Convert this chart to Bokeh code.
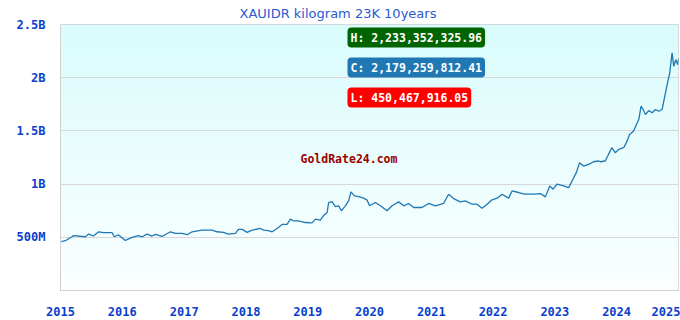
import numpy as np
import pandas as pd
from datetime import datetime
from bokeh.plotting import figure
from bokeh.models import Range1d, FixedTicker, DatetimeTickFormatter, Label, ColumnDataSource
from bokeh.embed import file_html
from bokeh.resources import INLINE

# ---- data ----
dates = [
    "2015-01-06", "2015-01-30", "2015-03-10", "2015-03-17", "2015-05-28", "2015-06-17", "2015-07-14",
    "2015-08-15", "2015-09-12", "2015-11-02", "2015-11-15", "2015-12-09", "2016-01-19", "2016-02-28",
    "2016-04-06", "2016-04-27", "2016-05-27", "2016-06-25", "2016-07-15", "2016-08-23", "2016-10-12",
    "2016-11-10", "2016-12-20", "2017-01-19", "2017-02-17", "2017-04-17", "2017-06-15", "2017-07-14",
    "2017-08-21", "2017-09-19", "2017-10-31", "2017-11-18", "2017-12-10", "2018-01-08", "2018-02-07",
    "2018-03-28", "2018-04-15", "2018-05-14", "2018-06-05", "2018-07-04", "2018-08-03", "2018-09-01",
    "2018-09-21", "2018-10-08", "2018-11-07", "2018-12-18", "2019-01-27", "2019-02-16", "2019-03-17",
    "2019-04-04", "2019-04-26", "2019-05-05", "2019-05-25", "2019-06-14", "2019-07-03", "2019-07-19",
    "2019-08-12", "2019-08-31", "2019-09-14", "2019-10-04", "2019-10-29", "2019-11-28", "2019-12-18",
    "2020-01-02", "2020-02-05", "2020-03-06", "2020-04-14", "2020-05-14", "2020-06-22", "2020-07-22",
    "2020-08-20", "2020-09-19", "2020-11-07", "2020-12-16", "2021-01-25", "2021-03-14", "2021-04-13",
    "2021-05-13", "2021-06-21", "2021-07-21", "2021-08-30", "2021-09-28", "2021-10-28", "2021-11-27",
    "2021-12-22", "2022-01-25", "2022-02-23", "2022-04-03", "2022-04-23", "2022-06-01", "2022-07-07",
    "2022-08-29", "2022-10-08", "2022-11-06", "2022-12-02", "2022-12-22", "2023-01-14", "2023-02-22",
    "2023-03-24", "2023-04-18", "2023-05-08", "2023-05-27", "2023-06-20", "2023-07-19", "2023-08-18",
    "2023-09-17", "2023-09-27", "2023-10-26", "2023-11-14", "2023-12-04", "2023-12-24", "2024-01-13",
    "2024-02-12", "2024-03-03", "2024-03-18", "2024-04-11", "2024-04-27", "2024-05-11", "2024-05-25",
    "2024-06-06", "2024-06-20", "2024-07-09", "2024-07-29", "2024-08-18", "2024-09-06", "2024-09-26",
    "2024-10-10", "2024-10-26", "2024-11-10", "2024-11-24", "2024-12-04", "2024-12-16", "2024-12-28",
    "2025-01-01",
]
values_m = [
    459, 468, 505, 515, 505, 530, 512,
    552, 543, 543, 505, 524, 471, 499,
    515, 505, 530, 512, 527, 508, 552,
    537, 537, 524, 552, 568, 568, 552,
    546, 530, 537, 574, 574, 546, 568,
    583, 568, 562, 552, 583, 621, 621,
    671, 655, 655, 639, 636, 671, 661,
    702, 733, 827, 836, 789, 796, 749,
    796, 842, 927, 889, 883, 868, 850,
    796, 827, 796, 749, 796, 833, 796,
    818, 780, 780, 818, 796, 818, 905,
    864, 833, 842, 811, 811, 774, 811,
    849, 868, 905, 868, 936, 921, 905,
    905, 911, 880, 983, 952, 999, 983,
    967, 1045, 1108, 1201, 1170, 1186, 1210,
    1217, 1210, 1217, 1279, 1342, 1295, 1326,
    1342, 1404, 1467, 1498, 1561, 1607, 1732,
    1701, 1654, 1691, 1670, 1701, 1685, 1701,
    1810, 1935, 2044, 2233, 2107, 2169, 2122,
    2179,
]
y_ticks = [0, 500_000_000, 1_000_000_000, 1_500_000_000, 2_000_000_000, 2_500_000_000]
y_tick_labels = ["", "500M", "1B", "1.5B", "2B", "2.5B"]
x_tick_years = list(range(2015, 2026))
title_text = "XAUIDR kilogram 23K 10years"
high_value = "2,233,352,325.96"
close_value = "2,179,259,812.41"
low_value = "450,467,916.05"

x = pd.to_datetime(dates)
y = np.array(values_m, dtype=float) * 1e6
src = ColumnDataSource(dict(x=x, y=y))

x0 = datetime(2015, 1, 1)
x1 = datetime(2025, 1, 1)

p = figure(width=680, height=320, output_backend="svg", toolbar_location=None,
           x_axis_type="datetime",
           x_range=Range1d(x0, x1), y_range=Range1d(0, 2.5e9),
           min_border_left=60, min_border_right=2, min_border_top=23, min_border_bottom=30)
p.background_fill_color = "white"
p.border_fill_color = "white"
p.outline_line_color = "#d0d0d0"

# gradient background
n = 100
top = np.array([218, 252, 252])
bot = np.array([251, 255, 255])
t = np.linspace(0, 1, n)[:, None]
cols = (bot + (top - bot) * t).astype(np.uint32)
img = np.empty((n, 1), dtype=np.uint32)
view = img.view(dtype=np.uint8).reshape((n, 1, 4))
view[:, 0, 0] = cols[:, 0]
view[:, 0, 1] = cols[:, 1]
view[:, 0, 2] = cols[:, 2]
view[:, 0, 3] = 255
ms0 = pd.Timestamp(x0).value / 1e6
ms1 = pd.Timestamp(x1).value / 1e6
p.image_rgba(image=[img], x=ms0, y=0, dw=ms1 - ms0, dh=2.5e9, level="image")

p.line("x", "y", source=src, line_color="#1f77b4", line_width=1.3)

# title
p.title.text = title_text
p.title.align = "left"
p.title.offset = 179
p.title.text_font = "DejaVu Sans"
p.title.text_font_size = "13px"
p.title.text_font_style = "normal"
p.title.text_color = "#2a5bd0"
p.title.standoff = 7

# axes
tick_font = "DejaVu Sans Mono"
for ax in (p.xaxis[0], p.yaxis[0]):
    ax.axis_line_color = "#d0d0d0"
    ax.major_tick_line_color = None
    ax.minor_tick_line_color = None
    ax.major_label_text_font = tick_font
    ax.major_label_text_font_style = "bold"
    ax.major_label_text_font_size = "12px"
    ax.major_label_text_color = "#0a3fcc"

p.yaxis.ticker = FixedTicker(ticks=y_ticks)
p.yaxis.major_label_overrides = {t_: l_ for t_, l_ in zip(y_ticks, y_tick_labels)}
p.yaxis.major_label_standoff = 9

p.xaxis.ticker = FixedTicker(ticks=[pd.Timestamp(datetime(yr, 1, 1)).value / 1e6 for yr in x_tick_years])
p.xaxis.formatter = DatetimeTickFormatter(years="%Y", months="%Y", days="%Y")
p.xaxis.major_label_standoff = 10

p.xgrid.grid_line_color = None
p.ygrid.grid_line_color = "#d8d8d8"
p.ygrid.ticker = FixedTicker(ticks=y_ticks)

# watermark
p.add_layout(Label(x=240, y=132, x_units="screen", y_units="screen", text="GoldRate24.com",
                   text_font=tick_font, text_font_style="bold", text_font_size="11.5px",
                   text_color="#990000", text_baseline="middle", text_align="left"))

# H / C / L badges
badges = [("H: " + high_value, "#006400", 263),
          ("C: " + close_value, "#1f77b4", 233),
          ("L: " + low_value, "#ff0000", 203)]
for txt, col, sy in badges:
    p.add_layout(Label(x=290, y=sy - 3, x_units="screen", y_units="screen", text=txt,
                       text_font=tick_font, text_font_style="bold", text_font_size="11.5px",
                       text_alpha=0, text_baseline="top", text_align="left",
                       background_fill_color="#aaaaaa", padding=3, border_radius=4))
    p.add_layout(Label(x=287, y=sy, x_units="screen", y_units="screen", text=txt,
                       text_font=tick_font, text_font_style="bold", text_font_size="11.5px",
                       text_color="white", text_baseline="top", text_align="left",
                       background_fill_color=col, padding=3, border_radius=4))

open("out.html", "w").write(file_html(p, INLINE))
